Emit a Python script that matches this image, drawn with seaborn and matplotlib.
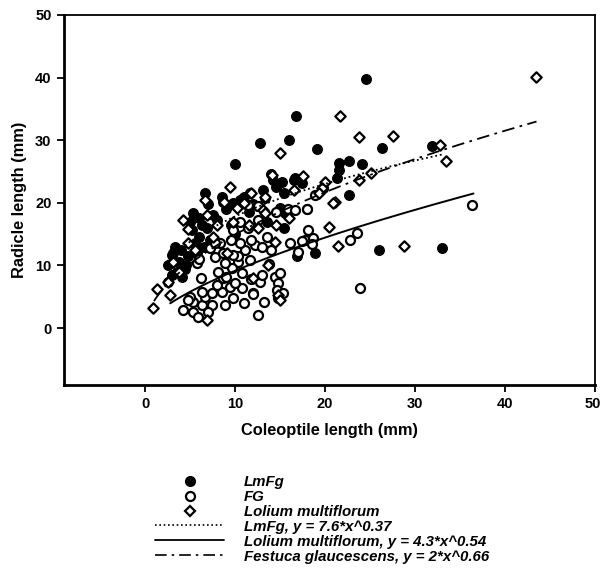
import numpy as np
import pandas as pd
import seaborn as sns
import matplotlib.pyplot as plt
import matplotlib.transforms as mtransforms
from matplotlib.lines import Line2D

# ---------------- data ----------------
lmfg_x = [24.5, 16.8, 12.8, 16.0, 10.0, 19.1, 26.3, 31.9, 22.7, 21.5, 24.1, 21.5, 21.3, 16.5,
          15.2, 22.7, 15.6, 15.4, 26.0, 33.0, 16.9, 18.9, 16.7, 14.2, 13.1, 13.3, 15.4, 17.4,
          14.0, 13.5, 15.0, 12.5, 18.0,
          6.7, 8.7, 5.3, 6.3, 8.0, 5.2, 6.9, 3.3, 3.0, 3.1, 3.0, 4.1, 2.6, 4.4, 3.8, 5.5, 6.0,
          7.5, 9.0, 7.0, 10.5, 11.0, 4.8, 6.5, 5.8, 7.2, 9.5, 10.0, 8.5, 5.0, 4.0, 2.5, 11.5,
          12.0, 9.8, 14.5, 6.0, 3.6, 4.6]
lmfg_y = [39.8, 33.8, 29.6, 30.0, 26.2, 28.6, 28.8, 29.0, 26.7, 26.4, 26.2, 25.3, 24.0, 23.7,
          23.4, 21.2, 18.4, 16.0, 12.4, 12.8, 11.5, 12.0, 24.0, 23.7, 22.1, 20.8, 21.5, 23.2,
          24.6, 17.0, 19.2, 19.5, 19.0,
          21.6, 20.2, 18.4, 16.5, 17.3, 15.7, 16.0, 13.0, 11.7, 12.0, 8.5, 8.2, 7.4, 9.5, 10.5,
          13.5, 14.5, 18.0, 19.0, 19.8, 20.5, 21.0, 11.5, 13.0, 12.0, 14.0, 16.5, 15.0, 21.0,
          17.0, 12.5, 10.0, 18.5, 19.8, 20.0, 22.5, 17.5, 9.0, 10.0]

fg_x = [36.3, 23.9, 23.6, 22.8, 18.1, 16.1, 17.8, 18.7, 18.5,
        11.7, 11.4, 19.8, 18.9, 15.9, 16.7, 18.0, 14.5, 12.6, 11.4, 17.4, 12.2, 13.0, 17.0, 11.1,
        10.3, 11.7, 10.8, 11.8, 12.8, 13.0, 14.4, 14.8, 14.7, 15.3, 14.8, 10.8, 12.0, 13.2, 12.6,
        4.2, 5.3, 5.9, 6.3, 7.4, 5.3, 5.0, 6.7, 6.3, 7.4, 8.6, 8.0, 8.7, 9.4, 8.1, 9.7, 8.9,
        10.3, 9.8, 7.8, 8.7, 5.8, 10.0, 8.9, 12.0, 4.8, 7.0, 9.0, 6.0, 7.2, 8.3, 9.5, 10.5,
        11.8, 9.8, 7.8, 13.5, 12.6, 14.0, 10.5, 6.2, 9.8, 11.0, 15.0, 13.8]
fg_y = [19.7, 6.4, 15.2, 14.1, 15.7, 13.6, 14.1, 14.4, 13.4,
        21.5, 19.6, 22.4, 21.3, 19.0, 18.9, 19.0, 18.5, 17.3, 16.0, 13.9, 13.3, 13.0, 12.2, 12.5,
        10.6, 10.9, 8.8, 7.8, 7.4, 8.5, 8.2, 7.2, 6.1, 5.6, 4.8, 6.4, 5.6, 4.2, 2.1,
        2.9, 2.6, 1.8, 3.7, 3.7, 4.2, 5.0, 5.0, 5.8, 5.6, 5.8, 6.9, 8.0, 6.6, 9.0, 9.6, 10.4,
        11.5, 11.7, 11.4, 12.0, 10.4, 7.2, 3.7, 5.4, 4.5, 2.6, 8.2, 11.0, 12.8, 13.6, 14.0, 13.6,
        14.1, 15.7, 13.6, 14.5, 19.5, 12.5, 17.0, 8.0, 4.8, 4.0, 8.8, 10.2]

lm_x = [43.4, 21.7, 23.8, 27.6, 32.8, 33.4, 17.6, 25.1, 23.8, 20.0, 19.7, 19.3, 21.1, 20.4,
        15.0, 28.8, 21.4,
        4.2, 6.7, 9.4, 11.8, 14.1, 13.3, 13.1, 10.2, 8.8, 4.8, 6.9, 9.8, 14.4, 13.3, 20.9,
        1.3, 0.9, 6.9, 2.6, 2.8, 3.1, 4.8, 13.7, 14.8, 9.1, 11.5, 16.0, 12.5, 3.8, 5.5, 7.5,
        8.0, 16.5, 11.0, 14.5, 15.0, 12.0]
lm_y = [40.1, 33.8, 30.5, 30.6, 29.3, 26.7, 24.3, 24.8, 23.7, 23.4, 22.4, 21.6, 20.2, 16.2,
        28.0, 13.1, 13.1,
        17.3, 20.5, 22.5, 21.6, 24.5, 21.0, 18.9, 19.2, 20.1, 15.8, 18.1, 17.0, 13.8, 18.4, 20.0,
        6.2, 3.2, 1.3, 7.4, 5.3, 10.6, 13.6, 10.0, 5.3, 12.0, 16.5, 17.5, 16.0, 9.0, 12.5, 14.5,
        16.5, 22.0, 20.0, 16.5, 4.5, 8.0]

# fitted power curves y = a * x^b  (as drawn in the figure)
dotted_ab, dotted_range = (7.6, 0.37), (2.5, 33.0)
solid_ab, solid_range = (2.0, 0.66), (2.8, 36.5)
dashdot_ab, dashdot_range = (4.3, 0.54), (1.0, 43.5)

legend_labels = ["LmFg", "FG", "Lolium multiflorum",
                 "LmFg, y = 7.6*x^0.37",
                 "Lolium multiflorum, y = 4.3*x^0.54",
                 "Festuca glaucescens, y = 2*x^0.66"]

x_ticks = [0, 10, 20, 30, 40, 50]
y_ticks = [0, 10, 20, 30, 40, 50]

# ---------------- plotting ----------------
sns.set_style("ticks")
plt.rcParams['font.family'] = ['Liberation Sans', 'DejaVu Sans']
plt.rcParams['text.color'] = 'black'
plt.rcParams['axes.labelcolor'] = 'black'
plt.rcParams['xtick.color'] = 'black'
plt.rcParams['ytick.color'] = 'black'

W, H = 601, 568
fig = plt.figure(figsize=(W / 100, H / 100), dpi=100)
ax = fig.add_axes([64 / W, 1 - 385 / H, (595 - 64) / W, (385 - 15) / H])

sns.scatterplot(x=lmfg_x, y=lmfg_y, ax=ax, marker='o', s=50, color='black',
                edgecolor='black', linewidth=0.8, legend=False, zorder=2)
sns.scatterplot(x=fg_x, y=fg_y, ax=ax, marker='o', s=42, color='white',
                edgecolor='black', linewidth=1.6, legend=False, zorder=3)
sns.scatterplot(x=lm_x, y=lm_y, ax=ax, marker='D', s=28, color='white',
                edgecolor='black', linewidth=1.6, legend=False, zorder=4)


def curve(ab, rng):
    xs = np.linspace(rng[0], rng[1], 200)
    return xs, ab[0] * xs ** ab[1]


dot_ls = (0, (1, 1.6))
dd_ls = (0, (7, 3, 1.5, 3))

xs, ys = curve(dotted_ab, dotted_range)
sns.lineplot(x=xs, y=ys, ax=ax, color='black', lw=1.3, linestyle=dot_ls, zorder=5)
xs, ys = curve(solid_ab, solid_range)
sns.lineplot(x=xs, y=ys, ax=ax, color='black', lw=1.4, linestyle='-', zorder=5)
xs, ys = curve(dashdot_ab, dashdot_range)
sns.lineplot(x=xs, y=ys, ax=ax, color='black', lw=1.3, linestyle=dd_ls, zorder=5)

ax.set_xlim(-9, 50)
ax.set_ylim(-9.1, 50)
ax.set_xticks(x_ticks)
ax.set_yticks(y_ticks)
ax.set_xticklabels([str(t) for t in x_ticks], fontsize=10.5, fontweight='bold')
ax.set_yticklabels([str(t) for t in y_ticks], fontsize=10.5, fontweight='bold')
ax.tick_params(direction='out', length=5, width=1.3, colors='black', pad=4)
ax.set_xlabel("Coleoptile length (mm)", fontsize=11.8, fontweight='bold', labelpad=8)
ax.set_ylabel("Radicle length (mm)", fontsize=11.8, fontweight='bold', labelpad=6)
for side in ['left', 'bottom']:
    ax.spines[side].set_linewidth(2.0)
for side in ['top', 'right']:
    ax.spines[side].set_linewidth(1.3)
for sp in ax.spines.values():
    sp.set_color('black')
ax.set_facecolor('white')

# keep the last x tick label inside the canvas
last_lbl = ax.get_xticklabels()[-1]
last_lbl.set_transform(last_lbl.get_transform() +
                       mtransforms.ScaledTranslation(-2 / 100, 0, fig.dpi_scale_trans))

handles = [
    Line2D([], [], marker='o', color='black', linestyle='none', markersize=7),
    Line2D([], [], marker='o', markerfacecolor='white', markeredgecolor='black',
           markeredgewidth=1.6, linestyle='none', markersize=6.5),
    Line2D([], [], marker='D', markerfacecolor='white', markeredgecolor='black',
           markeredgewidth=1.6, linestyle='none', markersize=5),
    Line2D([], [], color='black', lw=1.2, linestyle=dot_ls),
    Line2D([], [], color='black', lw=1.3, linestyle='-'),
    Line2D([], [], color='black', lw=1.2, linestyle=dd_ls),
]
fig.legend(handles, legend_labels, loc='upper left',
           bbox_to_anchor=(155 / W, 1 - 475 / H), bbox_transform=fig.transFigure,
           frameon=False, prop={'style': 'italic', 'weight': 'bold', 'size': 10.8},
           handlelength=4.6, handletextpad=1.3, labelspacing=0.06, borderpad=0,
           numpoints=1, borderaxespad=0)

fig.savefig("out.png", dpi=100, facecolor='white')
